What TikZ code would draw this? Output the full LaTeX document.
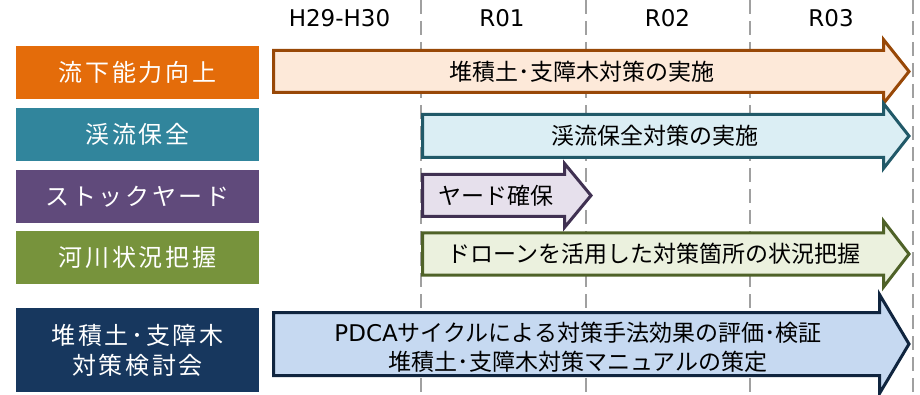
\documentclass[tikz,border=0pt]{standalone}
\usepackage{fontspec}
\setmainfont{DejaVu Sans}
\newfontfamily\jp{Noto Sans CJK JP}
\newfontfamily\jpw[LetterSpace=11]{Noto Sans CJK JP}
\newfontfamily\dv{DejaVu Sans}
\definecolor{lblOrange}{HTML}{E46C0A}
\definecolor{lblTeal}{HTML}{31859C}
\definecolor{lblPurple}{HTML}{604A7B}
\definecolor{lblGreen}{HTML}{77933C}
\definecolor{lblNavy}{HTML}{17375E}
\definecolor{fOrange}{HTML}{FDE9D9}
\definecolor{sOrange}{HTML}{984807}
\definecolor{fTeal}{HTML}{DBEEF4}
\definecolor{sTeal}{HTML}{215968}
\definecolor{fPurple}{HTML}{E6E0EC}
\definecolor{sPurple}{HTML}{403152}
\definecolor{fGreen}{HTML}{EBF1DE}
\definecolor{sGreen}{HTML}{4F6228}
\definecolor{fNavy}{HTML}{C6D9F1}
\definecolor{sNavy}{HTML}{10253F}
\definecolor{gridgray}{HTML}{A0A0A0}
\newcommand{\schedarrow}[7]{%
  % #1 style, #2 x start, #3 head base x, #4 tip x, #5 mid y, #6 half body, #7 half head
  \draw[#1] (#2,{#5-#6}) -- (#3,{#5-#6}) -- (#3,{#5-#7}) -- (#4,#5)
    -- (#3,{#5+#7}) -- (#3,{#5+#6}) -- (#2,{#5+#6}) -- cycle;}
\begin{document}
\begin{tikzpicture}[x=1pt,y=-1pt,
  lbl/.style={minimum width=243pt,minimum height=53pt,inner sep=0pt,text=white,
    font=\jpw\fontsize{24}{30}\selectfont,align=center},
  arr/.style={line width=3pt,line join=miter,miter limit=10},
  atext/.style={text=black,inner sep=0pt,font=\jp\fontsize{23}{29}\selectfont,align=center},
  hdr/.style={text=black,inner sep=0pt,font=\dv\fontsize{23}{26}\selectfont},
  grid/.style={gridgray,line width=2pt,dash pattern=on 14pt off 7pt}]
\useasboundingbox (0,0) rectangle (920,395);
% header labels
\node[hdr,anchor=base] (h1) at (339.5,27) {H29-H30};
\node[hdr,anchor=base] (h2) at (502,27) {R01};
\node[hdr,anchor=base] (h3) at (667.5,27) {R02};
\node[hdr,anchor=base] (h4) at (831,27) {R03};
% grid lines
\coordinate (g1t) at (421,0); \coordinate (g1b) at (421,395);
\coordinate (g2t) at (586,0); \coordinate (g2b) at (586,395);
\coordinate (g3t) at (750,0); \coordinate (g3b) at (750,395);
\coordinate (g4t) at (913,0); \coordinate (g4b) at (913,395);
\draw[grid] (g1t) -- (g1b);
\draw[grid] (g2t) -- (g2b);
\draw[grid] (g3t) -- (g3b);
\draw[grid] (g4t) -- (g4b);
% left labels
\node[lbl,fill=lblOrange] (l1) at (137.5,72.5) {流下能力向上};
\node[lbl,fill=lblTeal] (l2) at (137.5,134.5) {渓流保全};
\node[lbl,fill=lblPurple] (l3) at (137.5,196.5) {ストックヤード};
\node[lbl,fill=lblGreen] (l4) at (137.5,257.5) {河川状況把握};
\node[lbl,fill=lblNavy,minimum height=84pt] (l5) at (137.5,350) {堆積土･支障木\\対策検討会};
% arrows
\schedarrow{arr,draw=sOrange,fill=fOrange}{273.5}{883.5}{909}{71.5}{21}{32}
\schedarrow{arr,draw=sTeal,fill=fTeal}{422.5}{883.5}{909}{136}{21.5}{32.5}
\schedarrow{arr,draw=sPurple,fill=fPurple}{422.5}{564.5}{591}{195.5}{21}{32}
\schedarrow{arr,draw=sGreen,fill=fGreen}{422.5}{883.5}{909}{254}{21}{33}
\schedarrow{arr,draw=sNavy,fill=fNavy}{273.5}{879.5}{909}{344}{31.5}{49.5}
% arrow texts
\node[atext] (t1) at (582,72) {堆積土･支障木対策の実施};
\node[atext] (t2) at (655,136) {渓流保全対策の実施};
\node[atext] (t3) at (496,195.5) {ヤード確保};
\node[atext] (t4) at (654,254) {ドローンを活用した対策箇所の状況把握};
\node[atext] (t5) at (578,347) {{\dv PDCA}サイクルによる対策手法効果の評価･検証\\堆積土･支障木対策マニュアルの策定};
\end{tikzpicture}
\end{document}
